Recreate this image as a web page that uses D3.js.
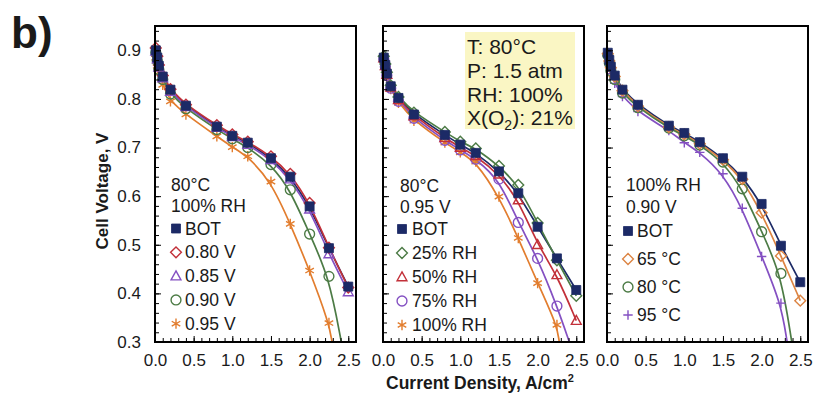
<!DOCTYPE html>
<html><head><meta charset="utf-8">
<script src="https://cdn.jsdelivr.net/npm/d3@7"></script>
<style>
body{margin:0;background:#fff;}
text{font-family:"Liberation Sans",Arial,sans-serif;fill:#1a1a1a;}
</style></head>
<body><svg id="c" width="816" height="396"></svg>
<script>
// ---------- data ----------
const currentDensity = [0.01,0.03,0.05,0.1,0.2,0.4,0.8,1.0,1.2,1.5,1.75,2.0,2.25,2.5];
const xTicks = [0.0,0.5,1.0,1.5,2.0,2.5];
const yTicks = [0.3,0.4,0.5,0.6,0.7,0.8,0.9];

// panel 1: 80°C, 100% RH, AST upper potential
const p1Header = ["80°C","100% RH"];
const p1Names = ["BOT","0.80 V","0.85 V","0.90 V","0.95 V"];
const p1_BOT  = [0.900,0.885,0.868,0.846,0.819,0.786,0.743,0.724,0.710,0.678,0.640,0.579,0.493,0.414];
const p1_080  = [0.905,0.888,0.870,0.848,0.820,0.788,0.746,0.727,0.712,0.682,0.646,0.586,0.494,0.412];
const p1_085  = [0.898,0.882,0.865,0.843,0.815,0.784,0.741,0.722,0.706,0.675,0.635,0.573,0.481,0.403];
const p1_090  = [0.895,0.878,0.860,0.840,0.810,0.780,0.737,0.718,0.700,0.665,0.613,0.522,0.435,null];
const p1_095  = [0.885,0.868,0.855,0.829,0.795,0.768,0.723,0.701,0.682,0.630,0.543,0.447,0.339,null];
const p1Tails = [null,null,null,[2.41,0.3],[2.29,0.3]];

// panel 2: 80°C, 0.95 V, RH
const p2Header = ["80°C","0.95 V"];
const p2Names = ["BOT","25% RH","50% RH","75% RH","100% RH"];
const p2_BOT  = [0.885,0.870,0.852,0.826,0.802,0.768,0.726,0.706,0.689,0.651,0.606,0.537,0.472,0.407];
const p2_25   = [0.888,0.872,0.855,0.828,0.804,0.772,0.732,0.712,0.698,0.662,0.623,0.545,0.468,0.395];
const p2_50   = [0.884,0.868,0.850,0.824,0.798,0.765,0.720,0.700,0.683,0.645,0.592,0.500,0.438,0.344];
const p2_75   = [0.882,0.866,0.848,0.822,0.795,0.760,0.715,0.695,0.676,0.635,0.546,0.472,0.374,null];
const p2_100  = [0.880,0.864,0.846,0.820,0.792,0.755,0.710,0.690,0.671,0.599,0.514,0.421,0.335,null];
const p2Tails = [null,null,null,[2.41,0.3],[2.28,0.3]];

// panel 3: 100% RH, 0.90 V, temperature
const p3Header = ["100% RH","0.90 V"];
const p3Names = ["BOT","65 °C","80 °C","95 °C"];
const p3_BOT  = [0.895,0.880,0.866,0.848,0.819,0.788,0.745,0.730,0.711,0.678,0.640,0.584,0.498,0.423];
const p3_65   = [0.893,0.878,0.864,0.846,0.817,0.785,0.742,0.727,0.708,0.675,0.635,0.566,0.477,0.385];
const p3_80   = [0.890,0.874,0.858,0.840,0.812,0.782,0.740,0.724,0.705,0.670,0.615,0.527,0.441,null];
const p3_95   = [0.885,0.868,0.852,0.832,0.805,0.774,0.735,0.710,0.690,0.646,0.575,0.476,0.380,null];
const p3Tails = [null,null,[2.39,0.3],[2.33,0.3]];

const conditionsBox = ["T: 80°C","P: 1.5 atm","RH: 100%","X(O|2|): 21%"];

// ---------- styles ----------
const NAVY="#1c2a66", RED="#c23039", PURPLE="#8450c2", GREEN="#4c7b45", ORANGE="#e27d2e", ORANGE2="#dc8443";

const panels = [
  {left:155, header:p1Header, hx:16, hy:[185,206], lx:21, tx:30, ly0:228.5, ldy:23.8,
   series:[p1_BOT,p1_080,p1_085,p1_090,p1_095], names:p1Names, tails:p1Tails,
   colors:[NAVY,RED,PURPLE,GREEN,ORANGE], shapes:["square","diamond","triangle","circle","asterisk"],
   drawOrder:[0,2,3,4,1], yLabels:true},
  {left:383, header:p2Header, hx:17, hy:[186,207], lx:19, tx:29, ly0:229, ldy:24,
   series:[p2_BOT,p2_25,p2_50,p2_75,p2_100], names:p2Names, tails:p2Tails,
   colors:[NAVY,GREEN,RED,PURPLE,ORANGE], shapes:["square","diamond","triangle","circle","asterisk"],
   drawOrder:[0,1,2,3,4], yLabels:false},
  {left:607, header:p3Header, hx:19, hy:[185,207], lx:21, tx:30, ly0:231, ldy:28,
   series:[p3_BOT,p3_65,p3_80,p3_95], names:p3Names, tails:p3Tails,
   colors:[NAVY,ORANGE2,GREEN,PURPLE], shapes:["square","diamond","circle","plus"],
   drawOrder:[0,1,2,3], yLabels:false}
];

const W=201, TOP=26, BOTTOM=342;
const svg = d3.select("#c");

function markerPath(shape, s){
  switch(shape){
    case "square": return `M${-s},${-s}h${2*s}v${2*s}h${-2*s}Z`;
    case "diamond": return `M0,${-s*1.15}L${s*1.15},0L0,${s*1.15}L${-s*1.15},0Z`;
    case "triangle": return `M0,${-s*1.1}L${s*1.05},${s*0.8}L${-s*1.05},${s*0.8}Z`;
    case "circle": { const r=s*1.05; return `M${r},0A${r},${r} 0 1,1 ${-r},0A${r},${r} 0 1,1 ${r},0Z`; }
    case "plus": return `M${-s},0H${s}M0,${-s}V${s}`;
    case "asterisk": {
      let p=`M0,${-s*1.1}V${s*1.1}`;
      const a=s*1.05*Math.cos(Math.PI/6), b=s*1.05*Math.sin(Math.PI/6);
      p+=`M${-a},${-b}L${a},${b}M${-a},${b}L${a},${-b}`; return p;
    }
  }
}
function drawMarker(g, shape, color, x, y){
  const filled = shape==="square";
  g.append("path").attr("d", markerPath(shape, shape==="square"?4.5:4.7))
    .attr("transform",`translate(${x},${y})`)
    .attr("fill", filled?color:"none")
    .attr("stroke", color).attr("stroke-width", filled?0.8:1.4);
}

// "b)" label
svg.append("text").attr("x",11).attr("y",48).attr("font-size",44).attr("font-weight","bold").attr("fill","#000").text("b)");

panels.forEach((p,pi)=>{
  const x = d3.scaleLinear().domain([0,2.6]).range([p.left, p.left+W]);
  const y = d3.scaleLinear().domain([0.3,0.95]).range([BOTTOM, TOP]);
  const g = svg.append("g");
  const clipId = "clip"+pi;
  svg.append("clipPath").attr("id",clipId).append("rect")
    .attr("x",p.left).attr("y",TOP).attr("width",W).attr("height",BOTTOM-TOP);

  // conditions box (panel 2)
  if(pi===1){
    g.append("rect").attr("x",465).attr("y",32).attr("width",110).attr("height",97).attr("fill","#faf6c4");
    conditionsBox.forEach((t,i)=>{
      const parts=t.split("|");
      const tx=g.append("text").attr("x",467).attr("y",47+i*23.6).attr("dy","0.35em").attr("font-size",21);
      tx.append("tspan").text(parts[0]);
      if(parts.length>1){
        tx.append("tspan").attr("font-size",14).attr("dy",5).text(parts[1]);
        tx.append("tspan").attr("dy",-5).text(parts[2]);
      }
    });
  }

  // lines (smoothed fit through the points)
  const line = d3.line().x(d=>x(d[0])).y(d=>y(d[1])).curve(d3.curveBasis);
  const lg = g.append("g").attr("clip-path",`url(#${clipId})`);
  p.drawOrder.forEach(si=>{
    const pts = currentDensity.map((c,i)=>[c,p.series[si][i]]).filter(d=>d[1]!=null);
    if(p.tails[si]) pts.push(p.tails[si]);
    lg.append("path").datum(pts).attr("d",line).attr("fill","none")
      .attr("stroke",p.colors[si]).attr("stroke-width",1.7);
  });
  // markers
  const mg = g.append("g");
  p.drawOrder.slice().reverse().forEach(si=>{
    currentDensity.forEach((c,i)=>{
      const v=p.series[si][i]; if(v==null) return;
      drawMarker(mg, p.shapes[si], p.colors[si], x(c), y(v));
    });
  });

  // axes (inward ticks)
  const xMinor = d3.axisBottom(x).tickValues(d3.range(0,26).map(k=>k/10)).tickSize(-4).tickFormat("");
  const xMajor = d3.axisBottom(x).tickValues(xTicks).tickSize(-6).tickPadding(12).tickFormat(d3.format(".1f"));
  const yMinor = d3.axisLeft(y).tickValues(d3.range(15,48).map(k=>k/50)).tickSize(-4).tickFormat("");
  const yMajor = d3.axisLeft(y).tickValues(yTicks).tickSize(-6).tickPadding(14).tickFormat(p.yLabels?d3.format(".1f"):"");
  [xMinor,xMajor].forEach(a=>{
    const ag=svg.append("g").attr("transform",`translate(0,${BOTTOM})`).call(a);
    ag.select(".domain").remove();
    ag.selectAll("line").attr("stroke","#000").attr("stroke-width",1);
    ag.selectAll("text").attr("font-size",17).attr("fill","#1a1a1a").attr("font-family","Liberation Sans, Arial, sans-serif");
  });
  [yMinor,yMajor].forEach(a=>{
    const ag=svg.append("g").attr("transform",`translate(${p.left},0)`).call(a);
    ag.select(".domain").remove();
    ag.selectAll("line").attr("stroke","#000").attr("stroke-width",1);
    ag.selectAll("text").attr("font-size",17).attr("fill","#1a1a1a").attr("font-family","Liberation Sans, Arial, sans-serif");
  });
  // frame
  g.append("rect").attr("x",p.left).attr("y",TOP).attr("width",W).attr("height",BOTTOM-TOP)
    .attr("fill","none").attr("stroke","#000").attr("stroke-width",2);

  // legend
  p.header.forEach((h,i)=>{
    g.append("text").attr("x",p.left+p.hx).attr("y",p.hy[i]).attr("dy","0.35em").attr("font-size",17.5).text(h);
  });
  p.names.forEach((n,i)=>{
    const yy=p.ly0+i*p.ldy;
    drawMarker(g, p.shapes[i], p.colors[i], p.left+p.lx, yy);
    g.append("text").attr("x",p.left+p.tx).attr("y",yy).attr("dy","0.35em").attr("font-size",17.5).text(n);
  });
});

// axis titles
svg.append("text").attr("transform","translate(108,191) rotate(-90)").attr("text-anchor","middle")
  .attr("font-size",17).attr("font-weight","bold").attr("fill","#000").text("Cell Voltage, V");
const xt = svg.append("text").attr("x",480).attr("y",389).attr("text-anchor","middle")
  .attr("font-size",17.5).attr("font-weight","bold").attr("fill","#000");
xt.append("tspan").text("Current Density, A/cm");
xt.append("tspan").attr("font-size",11).attr("dy",-7).text("2");
</script></body></html>
